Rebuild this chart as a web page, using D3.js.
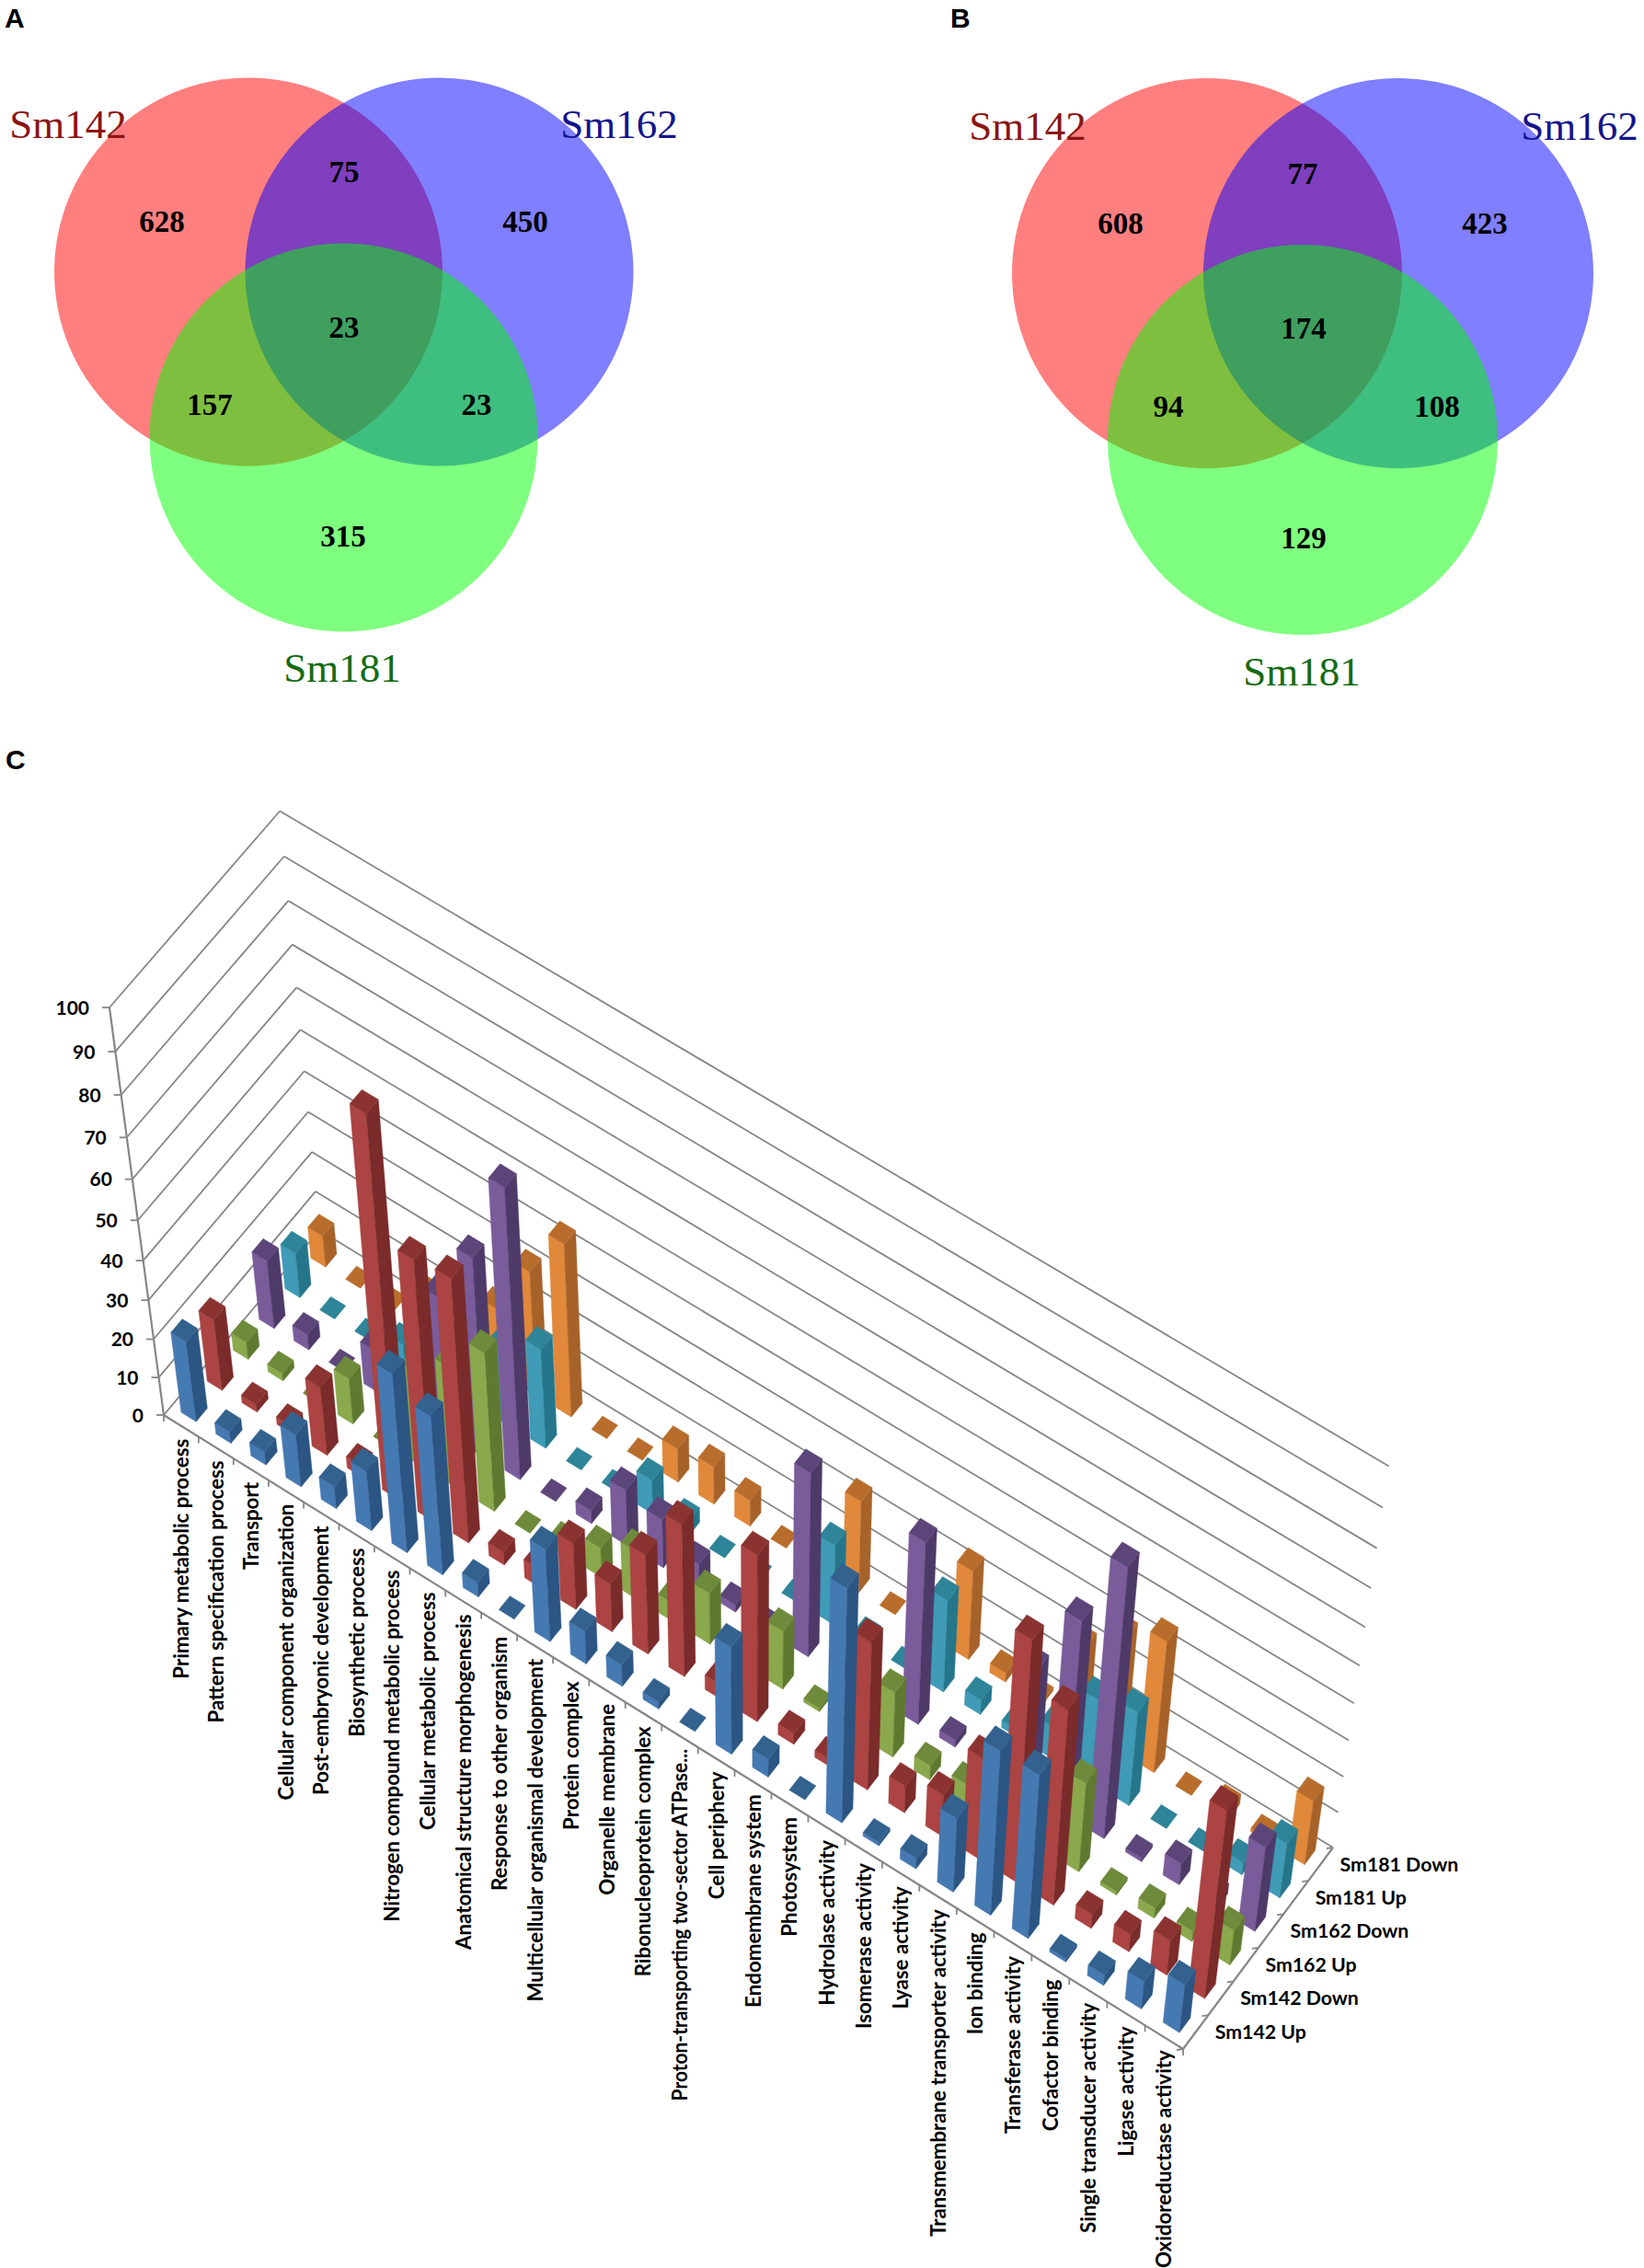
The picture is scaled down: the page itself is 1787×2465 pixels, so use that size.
<!DOCTYPE html>
<html><head><meta charset="utf-8">
<script src="https://cdn.jsdelivr.net/npm/d3@7/dist/d3.min.js"></script>
<style>html,body{margin:0;padding:0;background:#fff}svg{display:block}</style>
</head><body><svg id="c" width="1787" height="2465" xmlns="http://www.w3.org/2000/svg"></svg>
<script>
// ---------- DATA ----------
const vennSetNames = ["Sm142","Sm162","Sm181"];
const vennACounts = [628,75,450,23,157,23,315];
const vennBCounts = [608,77,423,174,94,108,129];
const categories = ["Primary metabolic process","Pattern specification process","Transport","Cellular component organization","Post-embryonic development","Biosynthetic process","Nitrogen compound metabolic process","Cellular metabolic process","Anatomical structure morphogenesis","Response to other organism","Multicellular organismal development","Protein complex","Organelle membrane","Ribonucleoprotein complex","Proton-transporting two-sector ATPase...","Cell periphery","Endomembrane system","Photosystem","Hydrolase activity","Isomerase activity","Lyase activity","Transmembrane transporter activity","Ion binding","Transferase activity","Cofactor binding","Single transducer activity","Ligase activity","Oxidoreductase activity"];
const seriesNames = ["Sm142 Up","Sm142 Down","Sm162 Up","Sm162 Down","Sm181 Up","Sm181 Down"];
const sm142Up   = [21,3,3.5,14,6,16,47,42,4,0,25,9,6,2,0,29.5,5,0,63.5,1,3,21,46,46,1,3,8,14];
const sm142Down = [18.5,2,2,18,3,96,67,68,3.5,5,18,13,27,41,4,45,3,2,40.5,7.5,11.5,28,66,54,4,5,10,53];
const sm162Up   = [4.5,2,0,12,0,25,32,41.5,0,3,8,13,5,14,0,16,1,1,18,4,5,10,15,25,1,3,3,10];
const sm162Down = [17.5,4,0,11,5,36,51.5,74,0,3.5,15,13,7,2,1,49,0,0,49,2,2,34,53,73,1,6,3,24];
const sm181Up   = [11.5,0,0,4.5,2,15,21,26,0,0,9,4,0,0,0,21.5,2,0,25,4,2,8.5,23,26,0,0,3.5,15.5];
const sm181Down = [8,0,0,9,3,17,32,44.5,0,0,9,10,7,0,0,24.5,0,0,24,2.5,1,22,31,36,0,3,1,18];
const seriesValues = [sm142Up,sm142Down,sm162Up,sm162Down,sm181Up,sm181Down];
const valueTicks = [0,10,20,30,40,50,60,70,80,90,100];

// ---------- STYLE ----------
const faceColors = [
 {front:"#4579b2",side:"#2b5583",top:"#33628f"},
 {front:"#ab4442",side:"#7a2b2a",top:"#8b3331"},
 {front:"#8aa84c",side:"#5f7a30",top:"#6e8a3b"},
 {front:"#7a5c9b",side:"#4d3a69",top:"#5c4579"},
 {front:"#3f9bb6",side:"#25768b",top:"#2e8498"},
 {front:"#e1883a",side:"#a7622a",top:"#b86d2c"}];
const GRID="#868686";
const svg=d3.select("#c");

// ---------- VENN ----------
const vennFills=["#ff0000","#0000ff","#00ff00"];
const vennTextColors=["#8b1414","#14148c","#146b14"];
function venn(counts,circles,r,labelPos,numPos){
  const g=svg.append("g");
  g.selectAll("circle").data(circles).join("circle")
    .attr("cx",d=>d[0]).attr("cy",d=>d[1]).attr("r",r)
    .attr("fill",(d,i)=>vennFills[i]).attr("fill-opacity",0.5);
  g.selectAll("text.n").data(counts).join("text").attr("class","n")
    .attr("x",(d,i)=>numPos[i][0]).attr("y",(d,i)=>numPos[i][1])
    .attr("text-anchor","middle").attr("dy","0.34em")
    .attr("font-family","Liberation Serif").attr("font-weight","bold").attr("font-size",33).attr("fill","#000")
    .text(d=>d);
  g.selectAll("text.s").data(vennSetNames).join("text").attr("class","s")
    .attr("x",(d,i)=>labelPos[i][0]).attr("y",(d,i)=>labelPos[i][1])
    .attr("text-anchor","middle")
    .attr("font-family","Liberation Serif").attr("font-size",45).attr("fill",(d,i)=>vennTextColors[i])
    .text(d=>d);
}
venn(vennACounts,[[270,295.5],[477.5,295.5],[373.5,475.5]],211,
  [[74,150],[673,150],[372,741]],
  [[176,241],[374,187],[571,241],[374,356],[228,440],[518,440],[373,583]]);
venn(vennBCounts,[[1312,297],[1520,297],[1416,478]],212,
  [[1117,152],[1717,152],[1415,745]],
  [[1218,243],[1416,189],[1614,243],[1417,357],[1270,442],[1562,442],[1417,585]]);
svg.selectAll("text.p").data([["A",5,30],["B",1033,30],["C",6,836]]).join("text").attr("class","p")
  .attr("x",d=>d[1]).attr("y",d=>d[2]).attr("font-family","Liberation Sans").attr("font-weight","bold")
  .attr("font-size",30).attr("fill","#000").text(d=>d[0]);

// ---------- 3D PROJECTION ----------
const FL=[178,1538],FR=[1286,2227],BR=[1449,2008],BL=[347,1337],VP=[817,6336],topFL=1095;
const sx=FL[0]-FR[0]+BR[0]-BL[0], sy=FL[1]-FR[1]+BR[1]-BL[1];
const dx1=FR[0]-BR[0],dx2=BL[0]-BR[0],dy1=FR[1]-BR[1],dy2=BL[1]-BR[1];
const den=dx1*dy2-dx2*dy1;
const hg=(sx*dy2-dx2*sy)/den, hh=(dx1*sy-sx*dy1)/den;
const ha=FR[0]-FL[0]+hg*FR[0], hb=BL[0]-FL[0]+hh*BL[0], hd=FR[1]-FL[1]+hg*FR[1], he=BL[1]-FL[1]+hh*BL[1];
const vc=-(FL[1]-topFL)/(VP[1]-topFL);
function project(u,v,t){
  const k=vc*t;
  const X=ha*u+hb*v+FL[0]+k*VP[0], Y=hd*u+he*v+FL[1]+k*VP[1], W=hg*u+hh*v+1+k;
  return [X/W,Y/W];
}
const uScale=d3.scaleBand().domain(d3.range(categories.length)).range([0,1]).paddingInner(0.57).paddingOuter(0.285);
const vScale=d3.scaleBand().domain(d3.range(seriesNames.length)).range([0,1]).paddingInner(0.57).paddingOuter(0.285);
const tScale=d3.scaleLinear().domain([0,100]).range([0,1]);
const line=d3.line();
const chart=svg.append("g");
function seg(a,b,w){chart.append("path").attr("d",line([a,b])).attr("stroke",GRID).attr("stroke-width",w||1.8).attr("fill","none");}

// walls
valueTicks.forEach(val=>{
  const t=tScale(val);
  seg(project(0,0,t),project(0,1,t));
  seg(project(0,1,t),project(1,1,t));
  const p=project(0,0,t);
  seg([p[0]-8,p[1]],p);
});
seg(project(0,0,0),project(0,0,1),2.2);
seg(project(0,0,0),project(1,0,0),2.2);
seg(project(1,0,0),project(1,1,0),2.2);
d3.range(categories.length+1).forEach(i=>{const p=project(i/categories.length,0,0);seg(p,[p[0],p[1]+7]);});
d3.range(seriesNames.length+1).forEach(j=>{const p=project(1,j/seriesNames.length,0);seg(p,[p[0]-7,p[1]+1]);});

// bars, back row first, left to right
const bw=uScale.bandwidth(),bd=vScale.bandwidth();
const poly=d3.line().curve(d3.curveLinearClosed);
function face(pts,col){chart.append("path").attr("d",poly(pts)).attr("fill",col).attr("stroke",col).attr("stroke-width",0.4).attr("stroke-linejoin","round");}
d3.range(seriesNames.length).reverse().forEach(j=>{
  const c=faceColors[j];
  seriesValues[j].forEach((val,i)=>{
    const u0=uScale(i),u1=u0+bw,v0=vScale(j),v1=v0+bd,t=tScale(val);
    if(val>0){
      face([project(u0,v0,0),project(u1,v0,0),project(u1,v0,t),project(u0,v0,t)],c.front);
      face([project(u1,v0,0),project(u1,v1,0),project(u1,v1,t),project(u1,v0,t)],c.side);
    }
    face([project(u0,v0,t),project(u1,v0,t),project(u1,v1,t),project(u0,v1,t)],c.top);
  });
});

// text
const lab=svg.append("g").attr("font-family","Lato").attr("font-weight","bold").attr("fill","#000");
lab.selectAll("text.y").data(valueTicks).join("text").attr("class","y")
  .attr("x",d=>project(0,0,tScale(d))[0]-22).attr("y",d=>project(0,0,tScale(d))[1])
  .attr("dy","0.36em").attr("text-anchor","end").attr("font-size",21).text(d=>d);
lab.selectAll("text.x").data(categories).join("text").attr("class","x")
  .attr("font-size",22.3).attr("text-anchor","end").attr("dy","0.36em")
  .attr("transform",(d,i)=>{const p=project((i+0.5)/categories.length,0,0);return `translate(${p[0]},${p[1]+14}) rotate(-90)`;})
  .text(d=>d)
  .filter(d=>d.endsWith("..."))
  .attr("textLength",function(){return this.getComputedTextLength()*0.94;})
  .attr("lengthAdjust","spacingAndGlyphs");
lab.selectAll("text.z").data(seriesNames).join("text").attr("class","z")
  .attr("font-size",21.3).attr("dy","0.36em")
  .attr("x",(d,j)=>project(1,(j+0.5)/seriesNames.length,0)[0]+21)
  .attr("y",(d,j)=>project(1,(j+0.5)/seriesNames.length,0)[1])
  .text(d=>d);
</script></body></html>
